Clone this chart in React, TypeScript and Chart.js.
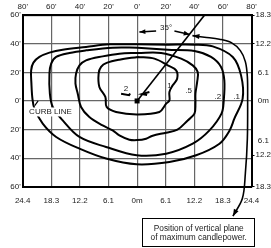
import React, { useEffect, useRef } from "react";
import { Chart, registerables } from "chart.js";

Chart.register(...registerables);

// ---- Axis ticks (feet on top/left, metres on bottom/right) ----
const xTickValues = [-80, -60, -40, -20, 0, 20, 40, 60, 80];
const topTickLabels = ["80'", "60'", "40'", "20'", "0'", "20'", "40'", "60'", "80'"];
const bottomTickLabels = ["24.4", "18.3", "12.2", "6.1", "0m", "6.1", "12.2", "18.3", "24.4"];
const yTickValues = [-60, -40, -20, 0, 20, 40, 60];
const leftTickLabels = ["60'", "40'", "20'", "0'", "20'", "40'", "60'"];
const rightTickValues = [-60, -38, -27.6, 0, 20, 40, 60];
const rightTickLabels = ["18.3", "12.2", "6.1", "0m", "6.1", "12.2", "18.3"];
const rightTickMarked = [true, true, false, false, false, true, true];

// ---- Isolux contours (feet) ----
const contour1 = [
  [0.4, 30.8], [12.1, 29.6], [21.4, 24.9], [27.3, 21.4], [28.0, 15.6], [24.9, 10.9],
  [22.6, 6.3], [22.6, 0.4], [20.3, -1.9], [15.6, -7.7], [-0.3, -9.4], [-14.7, -7.7],
  [-21.3, -4.2], [-22.2, 2.8], [-26.4, 9.8], [-26.9, 19.1], [-25.2, 23.8], [-21.3, 26.6],
  [-12.4, 28.9], [0.4, 30.8],
];
const contour05 = [
  [0.4, 33.6], [16.8, 33.6], [30.8, 29.6], [38.9, 24.9], [42.4, 20.3], [42.0, 13.3],
  [40.8, 5.1], [40.8, -1.9], [40.1, -8.9], [35.2, -13.8], [28.2, -20.1], [20.3, -22.2],
  [10.9, -24.3], [6.3, -26.4], [0, -27.4], [-5.4, -27.1], [-12.4, -24.1], [-17.1, -20.6],
  [-24.1, -17.1], [-33.4, -11.2], [-39.2, -4.2], [-41.5, 5.1], [-43.1, 12.1], [-42.7, 19.1],
  [-40.3, 24.9], [-35.7, 28.4], [-24.1, 31.2], [-12.4, 33.1], [0.4, 33.6],
];
const contour02 = [
  [0.4, 37.3], [21.4, 35.9], [40.1, 35.0], [51.7, 30.8], [58.7, 23.8], [61.0, 14.4],
  [60.6, 0.4], [59.0, -8.9], [50.6, -20.6], [38.9, -29.9], [20.3, -36.9], [-0.3, -38.0],
  [-21.7, -32.2], [-40.3, -25.2], [-52.0, -13.6], [-59.0, -4.2], [-61.0, 5.1], [-61.3, 19.1],
  [-60.1, 26.1], [-56.6, 30.8], [-47.3, 33.6], [-35.7, 35.4], [-17.1, 37.3], [0.4, 37.3],
];
const contour01 = [
  [0.4, 39.6], [21.2, 39.4], [40.0, 39.4], [52.9, 38.2], [66.9, 30.8], [72.7, 17.9],
  [73.8, 1.6], [68.0, -12.4], [64.5, -21.0], [57.6, -29.9], [41.3, -38.0], [22.6, -42.7],
  [-0.3, -44.3], [-21.7, -40.3], [-40.3, -33.4], [-56.6, -25.2], [-66.0, -15.9], [-71.8, -5.4],
  [-73.2, 1.6], [-73.9, 12.1], [-74.1, 21.4], [-72.5, 26.8], [-68.3, 30.8], [-61.3, 33.8],
  [-52.0, 35.9], [-35.7, 37.8], [-19.4, 39.6], [0.4, 39.6],
];
const contour2Left = [[-11.2, 5.0], [-5.6, 4.0], [-4.9, 5.2]];
const contour2Right = [[8.6, 6.2], [3.5, 4.8], [7.0, 4.1]];

// level labels
const levelLabels = ["2", "1", ".5", ".2", ".1"];
const levelLabelX = [-7.7, 22.6, 36.1, 56.4, 69.6];
const levelLabelY = [8.8, 10.9, 6.9, 3.1, 3.0];

// plane of maximum candlepower (35°) and leader to the note
const maxPlaneLine = [[0, 0], [47.1, 60]];
const leaderLine = [
  [38.7, 45.7], [47.1, 44.6], [57.6, 43.2], [65.9, 40.8], [72.2, 35.2], [75.7, 27.5],
  [77.1, 17.0], [77.3, 1.6], [77.1, -26.4], [75.7, -50.8], [73.6, -68.3], [67.0, -80.6],
];
const angleArrowLeft = [[13.3, 49.0], [1.6, 48.3]];
const angleArrowRight = [[26.1, 49.0], [36.8, 46.5]];
const angleLabel = "35°";
const angleLabelPos = [20.3, 50.9];
const curbLabel = "CURB LINE";
const curbLabelPos = [-60.6, -7.7];
const curbMark = [[-71.6, -3.2], [-69.2, 0.0]];
const noteLines = ["Position of vertical plane", "of maximum candlepower."];
const noteBox = [[3.7, -81.6], [82.0, -101.0]];
const noteTextX = 43.1;
const noteTextY = [-89.3, -95.9];

const FONT = '"Liberation Sans", Arial, sans-serif';

export default function App() {
  const ref = useRef<HTMLCanvasElement>(null);

  useEffect(() => {
    const canvas = ref.current!;
    const toPts = (a: number[][]) => a.map(([x, y]) => ({ x, y }));
    const lineDs = (pts: number[][], width = 2, tension = 0.35, clip: any = undefined) => ({
      data: toPts(pts),
      showLine: true,
      borderColor: "#000",
      backgroundColor: "#000",
      borderWidth: width,
      pointRadius: 0,
      pointHoverRadius: 0,
      tension,
      fill: false,
      ...(clip !== undefined ? { clip } : {}),
    });

    const arrowHead = (ctx: CanvasRenderingContext2D, fx: number, fy: number, tx: number, ty: number, len = 6, half = 2.4) => {
      const a = Math.atan2(ty - fy, tx - fx);
      ctx.beginPath();
      ctx.moveTo(tx, ty);
      ctx.lineTo(tx - len * Math.cos(a) + half * Math.sin(a), ty - len * Math.sin(a) - half * Math.cos(a));
      ctx.lineTo(tx - len * Math.cos(a) - half * Math.sin(a), ty - len * Math.sin(a) + half * Math.cos(a));
      ctx.closePath();
      ctx.fill();
    };

    const annot = {
      id: "annot",
      afterDraw(chart: any) {
        const { ctx } = chart;
        const sx = chart.scales.x;
        const sy = chart.scales.y;
        const X = (v: number) => sx.getPixelForValue(v);
        const Y = (v: number) => sy.getPixelForValue(v);
        ctx.save();
        ctx.fillStyle = "#000";
        ctx.strokeStyle = "#000";

        // centre luminaire square
        ctx.fillRect(X(0) - 2.5, Y(0) - 2.5, 5, 5);

        // angle arrows
        ctx.lineWidth = 1.5;
        for (const arr of [angleArrowLeft, angleArrowRight]) {
          ctx.beginPath();
          ctx.moveTo(X(arr[0][0]), Y(arr[0][1]));
          ctx.lineTo(X(arr[1][0]), Y(arr[1][1]));
          ctx.stroke();
          arrowHead(ctx, X(arr[0][0]), Y(arr[0][1]), X(arr[1][0]), Y(arr[1][1]));
        }
        // leader arrowheads
        const L = leaderLine;
        arrowHead(ctx, X(L[1][0]), Y(L[1][1]), X(L[0][0]), Y(L[0][1]), 7, 2.6);
        const n = L.length;
        arrowHead(ctx, X(L[n - 2][0]), Y(L[n - 2][1]), X(L[n - 1][0]), Y(L[n - 1][1]), 7, 2.6);

        // texts
        ctx.font = `8px ${FONT}`;
        ctx.textAlign = "center";
        ctx.textBaseline = "middle";
        // curb label with white backing (interrupts the curve)
        const cw = ctx.measureText(curbLabel).width;
        const cx = X(curbLabelPos[0]), cy = Y(curbLabelPos[1]);
        ctx.fillStyle = "#fff";
        ctx.fillRect(cx - cw / 2 - 1, cy - 4.5, cw + 2, 9);
        // curb mark
        ctx.lineWidth = 1.2;
        ctx.beginPath();
        ctx.moveTo(X(curbMark[0][0]), Y(curbMark[0][1]));
        ctx.lineTo(X(curbMark[1][0]), Y(curbMark[1][1]));
        ctx.stroke();

        ctx.fillStyle = "#222";
        ctx.fillText(curbLabel, cx, cy);
        levelLabels.forEach((t, i) => ctx.fillText(t, X(levelLabelX[i]), Y(levelLabelY[i])));
        ctx.fillText(angleLabel, X(angleLabelPos[0]), Y(angleLabelPos[1]));

        // note box
        const bx0 = X(noteBox[0][0]), by0 = Y(noteBox[0][1]);
        const bx1 = X(noteBox[1][0]), by1 = Y(noteBox[1][1]);
        ctx.fillStyle = "#fff";
        ctx.fillRect(bx0, by0, bx1 - bx0, by1 - by0);
        ctx.strokeStyle = "#000";
        ctx.lineWidth = 1;
        ctx.strokeRect(Math.round(bx0) + 0.5, Math.round(by0) + 0.5, Math.round(bx1 - bx0), Math.round(by1 - by0));
        ctx.fillStyle = "#222";
        ctx.font = `8.3px ${FONT}`;
        noteLines.forEach((t, i) => ctx.fillText(t, X(noteTextX), Y(noteTextY[i])));
        ctx.restore();
      },
    };

    const tickFont = { family: FONT, size: 8 };
    const gridStyle = { color: "#666", lineWidth: 1.2, drawTicks: false };
    const border = { color: "#000", width: 2 };

    const chart = new Chart(canvas, {
      type: "scatter",
      data: {
        datasets: [
          lineDs(contour01),
          lineDs(contour02),
          lineDs(contour05),
          lineDs(contour1),
          lineDs(contour2Left, 2, 0),
          lineDs(contour2Right, 2, 0),
          lineDs(maxPlaneLine, 1.6, 0),
          lineDs(leaderLine, 1.6, 0.35, false),
        ] as any,
      },
      options: {
        responsive: false,
        animation: false,
        devicePixelRatio: 1,
        layout: { padding: 0 },
        plugins: { legend: { display: false }, tooltip: { enabled: false } },
        events: [],
        scales: {
          x: {
            type: "linear",
            position: "bottom",
            min: -80,
            max: 80,
            afterBuildTicks: (s: any) => { s.ticks = xTickValues.map((v) => ({ value: v })); },
            ticks: { callback: (_v: any, i: number) => bottomTickLabels[i], font: tickFont, color: "#222", padding: 9, maxRotation: 0, autoSkip: false },
            grid: gridStyle,
            border,
            afterFit: (s: any) => { s.height = 61.3; },
          },
          x2: {
            type: "linear",
            position: "top",
            min: -80,
            max: 80,
            afterBuildTicks: (s: any) => { s.ticks = xTickValues.map((v) => ({ value: v })); },
            ticks: { callback: (_v: any, i: number) => topTickLabels[i], font: tickFont, color: "#222", padding: 4, maxRotation: 0, autoSkip: false },
            grid: { display: false, drawTicks: false },
            border,
            afterFit: (s: any) => { s.height = 15.2; },
          },
          y: {
            type: "linear",
            position: "left",
            min: -60,
            max: 60,
            afterBuildTicks: (s: any) => { s.ticks = yTickValues.map((v) => ({ value: v })); },
            ticks: { callback: (_v: any, i: number) => leftTickLabels[i], font: tickFont, color: "#222", padding: 2, autoSkip: false },
            grid: gridStyle,
            border,
            afterFit: (s: any) => { s.width = 22.7; },
          },
          y2: {
            type: "linear",
            position: "right",
            min: -60,
            max: 60,
            afterBuildTicks: (s: any) => { s.ticks = rightTickValues.map((v) => ({ value: v })); },
            ticks: { callback: (_v: any, i: number) => rightTickLabels[i], font: tickFont, color: "#222", padding: 1, crossAlign: "center", autoSkip: false },
            grid: {
              drawOnChartArea: false,
              drawTicks: true,
              tickLength: 3,
              tickWidth: 1.2,
              tickColor: (c: any) => (rightTickMarked[c.index] ? "#000" : "rgba(0,0,0,0)"),
            },
            border,
            afterFit: (s: any) => { s.width = 19.5; },
          },
        },
      } as any,
      plugins: [annot],
    });
    return () => chart.destroy();
  }, []);

  return (
    <div style={{ position: "fixed", left: 0, top: 0, width: 271, height: 248, background: "#fff" }}>
      <canvas ref={ref} width={271} height={248} style={{ display: "block" }} />
    </div>
  );
}
